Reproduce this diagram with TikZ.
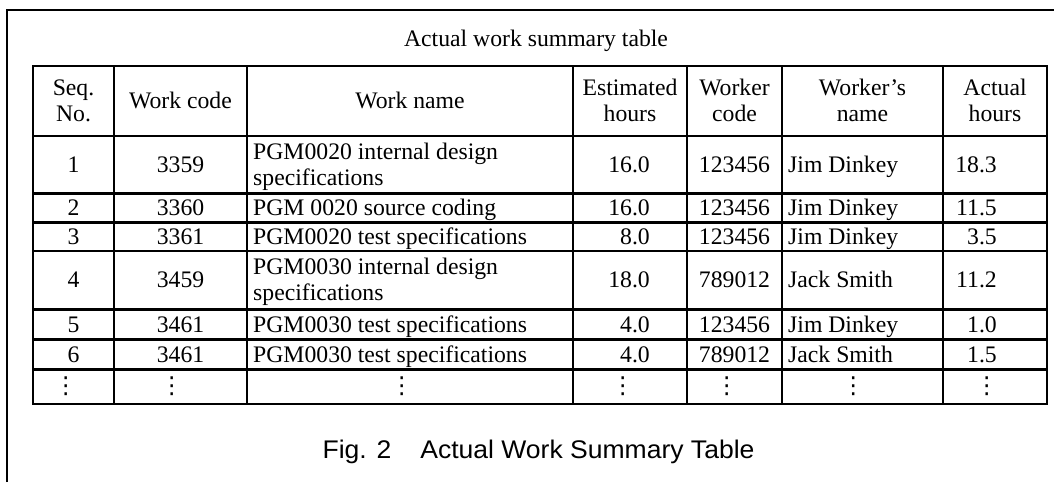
\documentclass[tikz,border=0pt]{standalone}
\usepackage{fontspec}
\setmainfont{Liberation Serif}
\newfontfamily\capfont[FakeStretch=1.04]{Liberation Sans}
\newfontfamily\symfont{DejaVu Sans}
\begin{document}
\begin{tikzpicture}[x=1pt,y=-1pt,
  rule/.style={line width=2.4pt},
  tfont/.style={font=\fontsize{23.7}{26}\selectfont},
  cell/.style={tfont,inner sep=0pt,text height=15.7pt,text depth=0pt},
  twoline/.style={cell,text height=41.7pt},
  head/.style={twoline,align=center},
  dotcell/.style={font=\symfont\fontsize{23.4}{26}\selectfont,inner sep=0pt}]
\useasboundingbox (0,0) rectangle (1054,482);

% outer frame (top and left edges)
\draw[rule,line join=miter] (7,482) -- (7,10) -- (1054,10);

% title
\node[tfont,inner sep=0pt,anchor=base] (title) at (536,46) {Actual work summary table};

% table grid
\draw[rule] (33,66) rectangle (1047,404);
\foreach \xx in {114,247,573,687,782,943}
  \draw[rule] (\xx,66) -- (\xx,404);
\foreach \yy in {136,193.3,222.3,250.7,309.3,339.3,369.3}
  \draw[rule] (33,\yy) -- (1047,\yy);

% header row
\node[head] (hseq)  at (73.5,101)  {Seq.\\No.};
\node[cell] (hcode) at (180.5,101) {Work code};
\node[cell] (hname) at (410,101)   {Work name};
\node[head] (hest)  at (630,101)   {Estimated\\hours};
\node[head] (hwc)   at (734.5,101) {Worker\\code};
\node[head] (hwn)   at (862.5,101) {Worker’s\\name};
\node[head] (hact)  at (995,101)   {Actual\\hours};

% data rows
\foreach \n/\yc/\code/\wst/\wn/\est/\wc/\wkr/\act in {
  1/164.65/3359/twoline/{PGM0020 internal design\\specifications}/16.0/123456/Jim Dinkey/18.3,
  2/207.8/3360/cell/{PGM 0020 source coding}/16.0/123456/Jim Dinkey/11.5,
  3/236.5/3361/cell/{PGM0020 test specifications}/8.0/123456/Jim Dinkey/3.5,
  4/280/3459/twoline/{PGM0030 internal design\\specifications}/18.0/789012/Jack Smith/11.2,
  5/324.3/3461/cell/{PGM0030 test specifications}/4.0/123456/Jim Dinkey/1.0,
  6/354.3/3461/cell/{PGM0030 test specifications}/4.0/789012/Jack Smith/1.5}{
  \node[cell] (s\n) at (73.5,\yc) {\n};
  \node[cell] (c\n) at (180.5,\yc) {\code};
  \node[\wst,align=left,anchor=west] (n\n) at (253,\yc) {\wn};
  \node[cell,anchor=east] (e\n) at (650,\yc) {\est};
  \node[cell] (k\n) at (734.5,\yc) {\wc};
  \node[cell,anchor=west] (w\n) at (788,\yc) {\wkr};
  \node[cell,anchor=east] (a\n) at (997,\yc) {\act};
}

% continuation row
\foreach \xx [count=\i] in {65.7,171.7,401.7,622.7,726.7,853.3,986.7}
  \node[dotcell] (d\i) at (\xx,386.65) {⋮};

% caption
\node[font=\capfont\fontsize{25.5}{28}\selectfont,inner sep=0pt,anchor=base] (caption)
  at (538.5,458.3) {Fig. 2\hspace{29pt}Actual Work Summary Table};
\end{tikzpicture}
\end{document}
